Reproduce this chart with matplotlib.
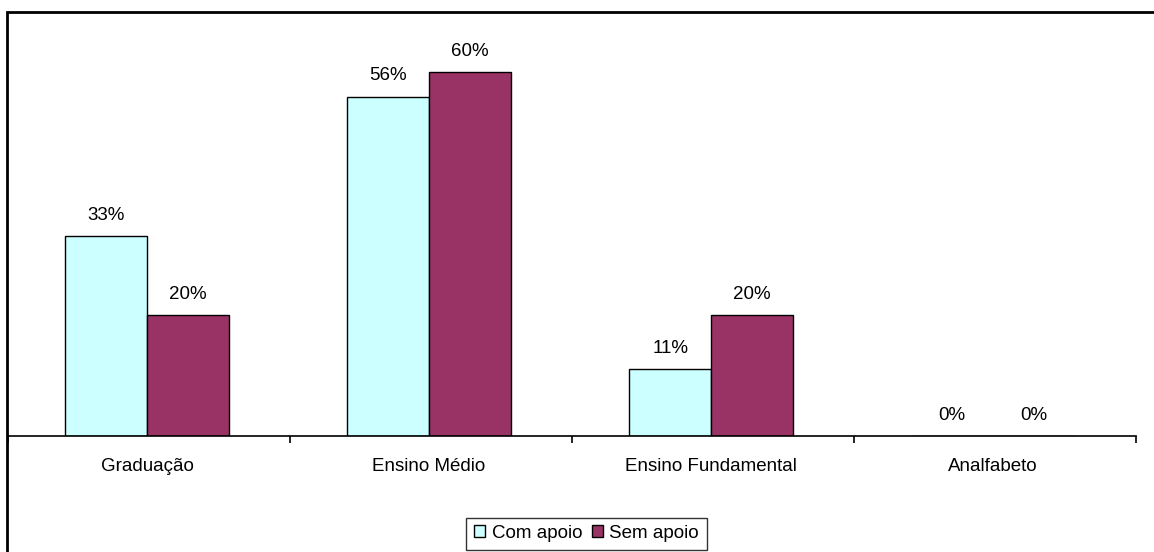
import matplotlib.pyplot as plt
import numpy as np
from matplotlib.patches import Rectangle

plt.rcParams['font.family'] = ['Liberation Sans', 'DejaVu Sans']

categorias = ["Graduação", "Ensino Médio", "Ensino Fundamental", "Analfabeto"]
com_apoio = [33, 56, 11, 0]
sem_apoio = [20, 60, 20, 0]
series = ["Com apoio", "Sem apoio"]
cores = ["#CCFFFF", "#993366"]

W, H = 1154, 552
fig = plt.figure(figsize=(W / 100, H / 100), dpi=100)

# outer chart border (cut off at right and bottom like the original)
fig.patches.append(Rectangle((7 / W, -0.1), 1.2, (H - 12) / H + 0.1,
                             transform=fig.transFigure, fill=False,
                             edgecolor="black", lw=2))

ax = fig.add_axes([8 / W, (H - 436) / H, (1136 - 8) / W, 400 / H])

x = np.arange(len(categorias)) - 0.007
bw = 0.29
b1 = ax.bar(x - bw / 2, com_apoio, bw, color=cores[0], edgecolor="black", lw=1, label=series[0])
b2 = ax.bar(x + bw / 2, sem_apoio, bw, color=cores[1], edgecolor="black", lw=1, label=series[1])

for bars in (b1, b2):
    for b in bars:
        ax.text(b.get_x() + b.get_width() / 2, b.get_height() + 2.0,
                f"{b.get_height():.0f}%", ha="center", va="bottom", fontsize=13.5)

ax.set_xlim(-0.5, len(categorias) - 0.5)
ax.set_ylim(0, 66)
ax.set_yticks([])
for s in ("top", "right", "left"):
    ax.spines[s].set_visible(False)
ax.spines["bottom"].set_linewidth(1.2)

ax.set_xticks(np.arange(len(categorias) + 1) - 0.5)
ax.set_xticklabels([])
ax.tick_params(axis="x", length=5, width=1.2, direction="out")
for i, c in enumerate(categorias):
    ax.text(i - 0.007, -5.0, c, ha="center", va="center", fontsize=13.5)

leg = fig.legend(loc="center", bbox_to_anchor=(586.5 / W, (H - 533.5) / H), ncol=2,
                 fontsize=13.5, frameon=True, fancybox=False, handlelength=0.6,
                 handleheight=0.6, handletextpad=0.35, columnspacing=0.5,
                 borderpad=0.4, borderaxespad=0)
leg.get_frame().set_edgecolor("black")
leg.get_frame().set_linewidth(1)

fig.savefig("out.png", dpi=100)
